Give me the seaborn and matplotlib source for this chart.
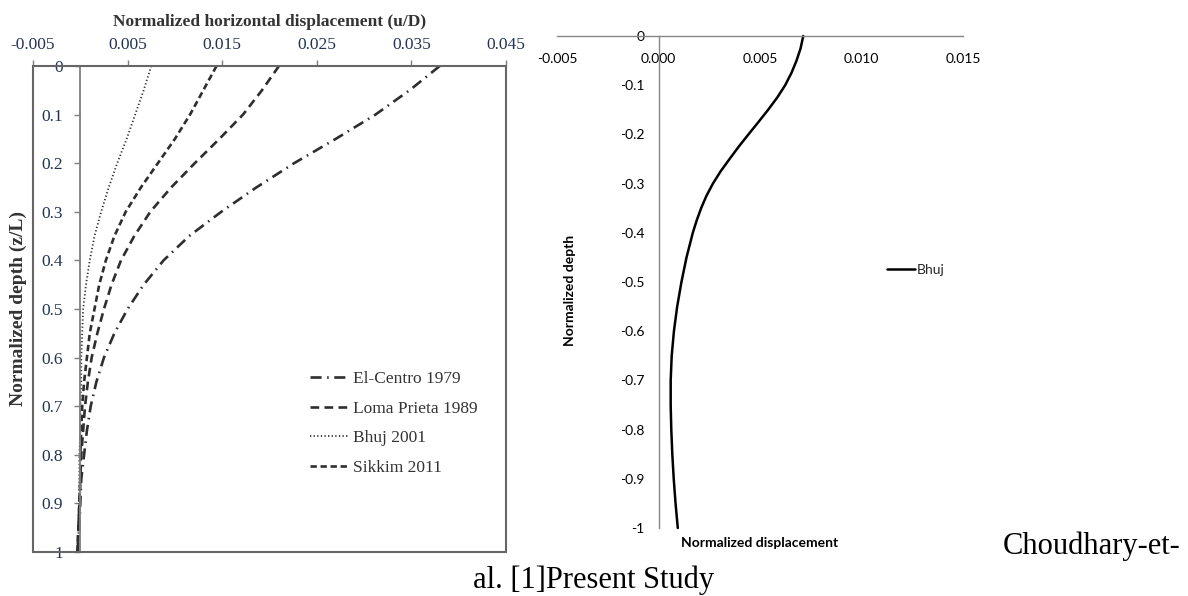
import matplotlib
matplotlib.use("Agg")
import matplotlib.pyplot as plt
import seaborn as sns
from matplotlib.patches import Rectangle

# ---------------- data ----------------
depth_left = [0.00, 0.05, 0.10, 0.15, 0.20, 0.25, 0.30, 0.35, 0.40, 0.45, 0.50,
              0.55, 0.60, 0.65, 0.70, 0.75, 0.80, 0.85, 0.90, 0.95, 1.00]
el_centro_1979 = [0.0380, 0.0348, 0.0312, 0.0270, 0.0226, 0.0186, 0.0149, 0.0115, 0.0088, 0.0067, 0.0050,
                  0.0036, 0.0025, 0.0017, 0.0011, 0.0007, 0.0004, 0.0001, 0.0000, -0.0001, -0.0003]
loma_prieta_1989 = [0.0210, 0.0192, 0.0172, 0.0147, 0.0121, 0.0096, 0.0074, 0.0057, 0.0043, 0.0033, 0.0025,
                    0.0018, 0.0012, 0.0008, 0.0005, 0.0003, 0.0001, 0.0000, -0.0001, -0.0002, -0.0003]
bhuj_2001 = [0.0075, 0.0067, 0.0058, 0.0049, 0.0039, 0.0030, 0.0022, 0.0015, 0.0010, 0.0006, 0.0003,
             0.0002, 0.0001, 0.0001, 0.0000, 0.0000, -0.0001, -0.0001, -0.0001, -0.0002, -0.0002]
sikkim_2011 = [0.0144, 0.0130, 0.0116, 0.0100, 0.0082, 0.0064, 0.0048, 0.0036, 0.0027, 0.0020, 0.0015,
               0.0010, 0.0007, 0.0004, 0.0002, 0.0001, 0.0000, 0.0000, -0.0001, -0.0002, -0.0003]
left_labels = ["El-Centro 1979", "Loma Prieta 1989", "Bhuj 2001", "Sikkim 2011"]

depth_right = [0.000, -0.025, -0.050, -0.075, -0.100, -0.125, -0.150, -0.175, -0.200, -0.225,
               -0.250, -0.275, -0.300, -0.325, -0.350, -0.375, -0.400, -0.450, -0.500, -0.550,
               -0.600, -0.650, -0.700, -0.750, -0.800, -0.850, -0.900, -0.950, -1.000]
bhuj_present = [0.00713, 0.00700, 0.00680, 0.00655, 0.00624, 0.00585, 0.00540, 0.00492, 0.00443, 0.00395,
                0.00350, 0.00306, 0.00268, 0.00236, 0.00210, 0.00188, 0.00169, 0.00138, 0.00113, 0.00092,
                0.00076, 0.00065, 0.00060, 0.00060, 0.00063, 0.00068, 0.00075, 0.00084, 0.00095]
right_label = "Bhuj"

left_xticks = [-0.005, 0.005, 0.015, 0.025, 0.035, 0.045]
left_yticks = [0, 0.1, 0.2, 0.3, 0.4, 0.5, 0.6, 0.7, 0.8, 0.9, 1]
right_xticks = [-0.005, 0.000, 0.005, 0.010, 0.015]
right_yticks = [0, -0.1, -0.2, -0.3, -0.4, -0.5, -0.6, -0.7, -0.8, -0.9, -1]

# ---------------- style ----------------
sns.set_theme(style="white")
SERIF = ["Liberation Serif", "DejaVu Serif"]
SANS = ["Lato", "DejaVu Sans"]
plt.rcParams["font.family"] = SERIF

W, H = 1188, 596
fig = plt.figure(figsize=(W / 100, H / 100), dpi=100)
fig.patch.set_facecolor("white")

# ---------------- left chart ----------------
ax1 = fig.add_axes([33 / W, (H - 552) / H, 473 / W, 486 / H])
line_color = "#2e2e2e"
styles = [
    ((0, (4.2, 2.1, 0.6, 2.1)), 1.9),
    ((0, (3.3, 2.0)), 1.9),
    ((0, (0.7, 1.3)), 1.3),
    ((0, (2.4, 1.4)), 1.9),
]
for vals, lab, (ls, lw) in zip([el_centro_1979, loma_prieta_1989, bhuj_2001, sikkim_2011],
                               left_labels, styles):
    sns.lineplot(x=vals, y=depth_left, ax=ax1, sort=False, estimator=None,
                 color=line_color, linewidth=lw, linestyle=ls, label=lab)

ax1.set_xlim(-0.005, 0.045)
ax1.set_ylim(1, 0)
ax1.xaxis.tick_top()
ax1.xaxis.set_label_position("top")
ax1.set_xticks(left_xticks)
ax1.set_xticklabels([f"{v:.3f}" for v in left_xticks])
ax1.set_yticks(left_yticks)
ax1.set_yticklabels([f"{v:g}" for v in left_yticks])
ax1.spines["left"].set_position(("data", 0))
axis_gray = "#7f7f7f"
for s in ["left", "top", "right", "bottom"]:
    ax1.spines[s].set_color(axis_gray)
    ax1.spines[s].set_linewidth(1.3)
ax1.add_patch(Rectangle((0, 0), 1, 1, transform=ax1.transAxes, fill=False,
                        edgecolor="#666666", linewidth=1.5, clip_on=False, zorder=5))
tick_col = "#243352"
ax1.tick_params(axis="x", which="both", top=True, bottom=False, direction="out",
                length=4.5, width=1, color=axis_gray, pad=5, labelsize=12.5,
                labelcolor=tick_col, labeltop=True, labelbottom=False)
ax1.tick_params(axis="y", which="both", left=True, direction="out",
                length=4.5, width=1, color=axis_gray, pad=8, labelsize=12.5,
                labelcolor=tick_col)
ax1.set_xlabel("Normalized horizontal displacement (u/D)", fontsize=12.5,
               fontweight="bold", color="#333333", labelpad=8)
ax1.set_ylabel("")
fig.text(18 / W, 1 - 309 / H, "Normalized depth (z/L)", rotation=90, ha="center",
         va="center", fontsize=14, fontweight="bold", color="#333333", family=SERIF)

leg1 = ax1.legend(loc="upper left", bbox_to_anchor=((310 - 33) / 473, (552 - 371) / 486),
                  frameon=False, borderaxespad=0, borderpad=0, handlelength=2.2,
                  handletextpad=0.25, labelspacing=0.77, fontsize=12.5)
for t in leg1.get_texts():
    t.set_color("#333333")

# ---------------- right chart ----------------
ax2 = fig.add_axes([557 / W, (H - 528) / H, 406 / W, 492 / H])
sns.lineplot(x=bhuj_present, y=depth_right, ax=ax2, sort=False, estimator=None,
             color="black", linewidth=1.8, label=right_label)
for ln in ax2.get_lines():
    ln.set_clip_on(False)
ax2.set_xlim(-0.005, 0.015)
ax2.set_ylim(-1, 0)
ax2.set_xticks(right_xticks)
ax2.set_xticklabels([f"{v:.3f}" for v in right_xticks])
ax2.set_yticks(right_yticks)
ax2.set_yticklabels([f"{v:g}" for v in right_yticks])
ax2.spines["left"].set_position(("data", 0))
ax2.spines["bottom"].set_position(("data", 0))
ax2.spines["top"].set_visible(False)
ax2.spines["right"].set_visible(False)
for s in ["left", "bottom"]:
    ax2.spines[s].set_color("#868686")
    ax2.spines[s].set_linewidth(1.0)
ax2.tick_params(axis="x", length=0, pad=12, labelsize=10, labelcolor="black")
ax2.tick_params(axis="y", length=0, pad=10, labelsize=10, labelcolor="black")
for lab in ax2.get_xticklabels() + ax2.get_yticklabels():
    lab.set_family(SANS)
ax2.set_xlabel("")
ax2.set_ylabel("")
ax2.text((570 - 557) / 406, (528 - 290) / 492, "Normalized depth", rotation=90,
         ha="center", va="center", transform=ax2.transAxes, fontsize=10,
         fontweight="bold", family=SANS, color="black")
ax2.text((760 - 557) / 406, (528 - 543) / 492, "Normalized displacement",
         ha="center", va="center", transform=ax2.transAxes, fontsize=10,
         fontweight="bold", family=SANS, color="black")
leg2 = ax2.legend(loc="center left", bbox_to_anchor=((887 - 557) / 406, (528 - 270) / 492),
                  frameon=False, borderaxespad=0, borderpad=0, handlelength=2.0,
                  handletextpad=0.15, prop={"family": SANS, "size": 10})

# ---------------- caption text ----------------
fig.text(1180 / W, 1 - 546 / H, "Choudhary-et-", ha="right", va="center",
         fontsize=22, family=SERIF, color="black")
fig.text(594 / W, 1 - 580 / H, "al. [1]Present Study", ha="center", va="center",
         fontsize=22, family=SERIF, color="black")

fig.savefig("out.png", dpi=100, facecolor="white")
